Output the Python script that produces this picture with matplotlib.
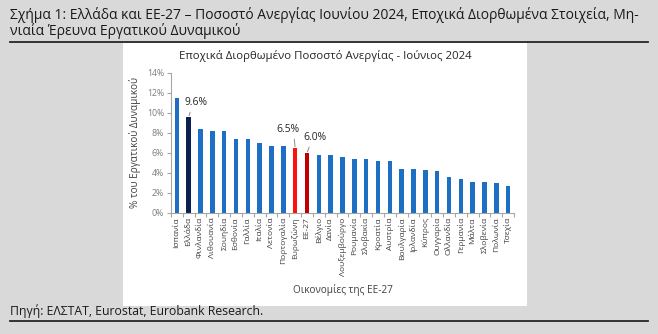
import matplotlib
matplotlib.use("Agg")
import matplotlib.pyplot as plt
from matplotlib.patches import Rectangle
from matplotlib.lines import Line2D

plt.rcParams["font.family"] = ["Open Sans", "DejaVu Sans"]

countries = ["Ισπανία", "Ελλάδα", "Φινλανδία", "Λιθουανία", "Σουηδία", "Εσθονία",
             "Γαλλία", "Ιταλία", "Λετονία", "Πορτογαλία", "Ευρωζώνη", "ΕΕ-27",
             "Βέλγιο", "Δανία", "Λουξεμβούργο", "Ρουμανία", "Σλοβακία", "Κροατία",
             "Αυστρία", "Βουλγαρία", "Ιρλανδία", "Κύπρος", "Ουγγαρία", "Ολλανδία",
             "Γερμανία", "Μάλτα", "Σλοβενία", "Πολωνία", "Τσεχία"]
rates = [11.5, 9.6, 8.4, 8.2, 8.2, 7.4, 7.4, 7.0, 6.7, 6.7, 6.5, 6.0,
         5.8, 5.8, 5.6, 5.4, 5.4, 5.2, 5.2, 4.4, 4.4, 4.3, 4.2, 3.6,
         3.4, 3.1, 3.1, 3.0, 2.7]
yticks = [0, 2, 4, 6, 8, 10, 12, 14]

BLUE, NAVY, RED, DARKRED = "#1c6fc2", "#0c1f55", "#ff1010", "#c00000"
special = {"Ελλάδα": NAVY, "Ευρωζώνη": RED, "ΕΕ-27": DARKRED}
colors = [special.get(c, BLUE) for c in countries]
AXC, TXT = "#a6a6a6", "#404040"

W, H = 658, 334
fig = plt.figure(figsize=(W / 100, H / 100), dpi=100, facecolor="#d9d9d9")

def fx(px): return px / W
def fy(py): return 1 - py / H

# white chart panel and the two dark rules
fig.patches.append(Rectangle((fx(123), fy(306)), fx(527) - fx(123), fy(43) - fy(306),
                             transform=fig.transFigure, facecolor="white", edgecolor="none", zorder=-5))
for yy in (41.5, 321):
    fig.lines.append(Line2D([fx(10), fx(648)], [fy(yy), fy(yy)], transform=fig.transFigure,
                            color="#262626", lw=1.3))

fig.text(fx(10), fy(15), "Σχήμα 1: Ελλάδα και ΕΕ-27 – Ποσοστό Ανεργίας Ιουνίου 2024, Εποχικά Διορθωμένα Στοιχεία, Μη-",
         fontsize=10.0, color="#1a1a1a", va="center", ha="left")
fig.text(fx(10), fy(31), "νιαία Έρευνα Εργατικού Δυναμικού",
         fontsize=10.0, color="#1a1a1a", va="center", ha="left")
fig.text(fx(10), fy(311), "Πηγή: ΕΛΣΤΑΤ, Eurostat, Eurobank Research.",
         fontsize=8.8, color="#1a1a1a", va="center", ha="left")

# chart title sits centred on the white panel
fig.text(fx(325), fy(56), "Εποχικά Διορθωμένο Ποσοστό Ανεργίας - Ιούνιος 2024",
         fontsize=8.2, color="#262626", ha="center", va="center")

ax = fig.add_axes([fx(171), fy(213), fx(514) - fx(171), fy(73) - fy(213)])
ax.set_facecolor("none")
x = range(len(countries))
ax.bar(x, rates, width=0.38, color=colors, zorder=2)
ax.set_xlim(-0.5, len(countries) - 0.5)
ax.set_ylim(0, 14)
ax.set_yticks(yticks)
ax.set_yticklabels([f"{v}%" for v in yticks], fontsize=6.3, color="#7f7f7f")
ax.set_xticks(list(x))
ax.set_xticklabels(countries, rotation=90, fontsize=6.0, color=TXT)
ax.tick_params(axis="x", length=0, pad=3)
ax.tick_params(axis="y", length=3, color=AXC, width=0.8, pad=2)
ax.set_xticks([i + 0.5 for i in range(-1, len(countries))], minor=True)
ax.tick_params(axis="x", which="minor", length=3, color=AXC, width=0.8)
for s in ("top", "right"):
    ax.spines[s].set_visible(False)
for s in ("left", "bottom"):
    ax.spines[s].set_color(AXC)
    ax.spines[s].set_linewidth(0.8)

ax.set_ylabel("% του Εργατικού Δυναμικού", fontsize=7.2, color=TXT, labelpad=4)
ax.set_xlabel("Οικονομίες της ΕΕ-27", fontsize=7.2, color=TXT, labelpad=6)

# value labels, each tied to its bar by a short grey leader
for name, dx, dy, rx in [("Ελλάδα", 0.6, 1.45, 0.3), ("Ευρωζώνη", -0.6, 1.85, 0.75),
                         ("ΕΕ-27", 0.7, 1.55, 0.3)]:
    i = countries.index(name)
    v = rates[i]
    ax.annotate(f"{v:.1f}%", xy=(i, v), xytext=(i + dx, v + dy), fontsize=7.4, color="#262626",
                ha="center", va="center",
                arrowprops=dict(arrowstyle="-", color="#8c8c8c", lw=0.7, relpos=(rx, 0),
                                shrinkA=1, shrinkB=1))

fig.savefig("out.png", dpi=100, facecolor=fig.get_facecolor())
